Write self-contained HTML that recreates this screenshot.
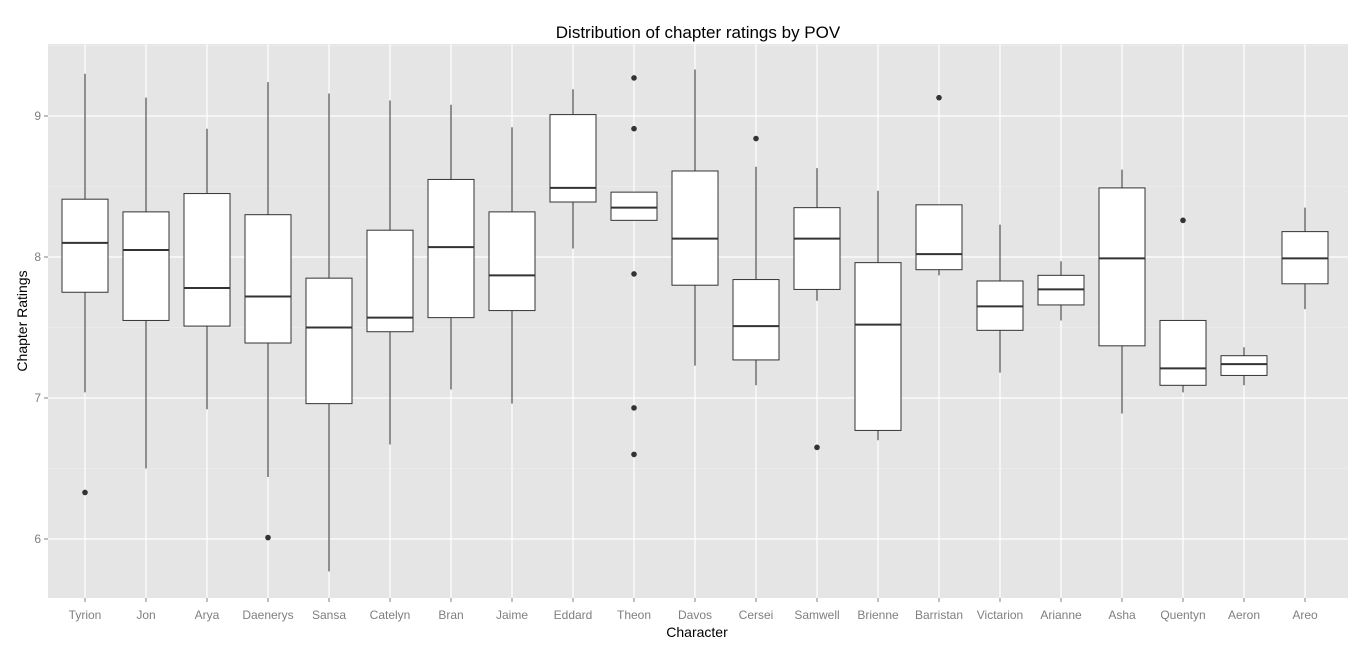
<!DOCTYPE html>
<html><head><meta charset="utf-8"><style>
body{margin:0;background:#fff;font-family:"Liberation Sans",sans-serif;}
</style></head><body>
<svg id="chart" width="1361" height="650" xmlns="http://www.w3.org/2000/svg"></svg>
<script>
const categories=["Tyrion","Jon","Arya","Daenerys","Sansa","Catelyn","Bran","Jaime","Eddard","Theon","Davos","Cersei","Samwell","Brienne","Barristan","Victarion","Arianne","Asha","Quentyn","Aeron","Areo"];
const whiskerLow=[7.04,6.50,6.92,6.44,5.77,6.67,7.06,6.96,8.06,8.26,7.23,7.09,7.69,6.70,7.87,7.18,7.55,6.89,7.04,7.09,7.63];
const q1=[7.75,7.55,7.51,7.39,6.96,7.47,7.57,7.62,8.39,8.26,7.80,7.27,7.77,6.77,7.91,7.48,7.66,7.37,7.09,7.16,7.81];
const medians=[8.10,8.05,7.78,7.72,7.50,7.57,8.07,7.87,8.49,8.35,8.13,7.51,8.13,7.52,8.02,7.65,7.77,7.99,7.21,7.24,7.99];
const q3=[8.41,8.32,8.45,8.30,7.85,8.19,8.55,8.32,9.01,8.46,8.61,7.84,8.35,7.96,8.37,7.83,7.87,8.49,7.55,7.30,8.18];
const whiskerHigh=[9.30,9.13,8.91,9.24,9.16,9.11,9.08,8.92,9.19,8.46,9.33,8.64,8.63,8.47,8.37,8.23,7.97,8.62,7.55,7.36,8.35];
const outliers=[[6.33],[],[],[6.01],[],[],[],[],[],[9.27,8.91,7.88,6.93,6.60],[],[8.84],[6.65],[],[9.13],[],[],[],[8.26],[],[]];
const yTicks=[6,7,8,9];

const NS="http://www.w3.org/2000/svg";
const svg=document.getElementById("chart");
const L=48,R=1348,T=44,B=598;
const yS=v=>257-(v-8)*141;
const xS=i=>85+i*61;
function el(tag,attrs,parent){const e=document.createElementNS(NS,tag);for(const k in attrs)e.setAttribute(k,attrs[k]);(parent||svg).appendChild(e);return e;}
const bg=el("rect",{x:L,y:T,width:R-L,height:B-T,fill:"#e5e5e5"});


const grid=el("g",{});


for(let v=5.5;v<=9.6;v+=0.5){const y=yS(v);if(y<T||y>B)continue;el("line",{x1:L,x2:R,y1:y,y2:y,stroke:(v%1===0)?"#fff":"#f2f2f2","stroke-width":(v%1===0)?1.2:0.6},grid);}
categories.forEach((c,i)=>{el("line",{x1:xS(i),x2:xS(i),y1:T,y2:B,stroke:"#fff","stroke-width":1.2},grid);});
const yax=el("g",{font_size:12});


yTicks.forEach(v=>{const y=yS(v);el("line",{x1:L-4,x2:L,y1:y,y2:y,stroke:"#7f7f7f"},yax);const t=el("text",{x:L-7,y:y+4,"text-anchor":"end","font-size":12,fill:"#7f7f7f"},yax);t.textContent=v;});
const xax=el("g",{});


categories.forEach((c,i)=>{el("line",{x1:xS(i),x2:xS(i),y1:B,y2:B+4,stroke:"#7f7f7f"},xax);const t=el("text",{x:xS(i),y:619,"text-anchor":"middle","font-size":12,fill:"#7f7f7f"},xax);t.textContent=c;});
const hw=23;
categories.forEach((c,i)=>{
  const g=el("g",{});
  
  
  const x=xS(i);
  el("line",{x1:x,x2:x,y1:yS(whiskerHigh[i]),y2:yS(q3[i]),stroke:"#333","stroke-width":1},g);
  el("line",{x1:x,x2:x,y1:yS(q1[i]),y2:yS(whiskerLow[i]),stroke:"#333","stroke-width":1},g);
  el("rect",{x:x-hw,y:yS(q3[i]),width:2*hw,height:yS(q1[i])-yS(q3[i]),fill:"#fff",stroke:"#333","stroke-width":1},g);
  el("line",{x1:x-hw,x2:x+hw,y1:yS(medians[i]),y2:yS(medians[i]),stroke:"#333","stroke-width":2},g);
  outliers[i].forEach(v=>{const p=el("circle",{cx:x,cy:yS(v),r:2.8,fill:"#333"},g);
    
    });
});
const title=el("text",{x:698,y:38,"text-anchor":"middle","font-size":17,fill:"#000"});
title.textContent="Distribution of chapter ratings by POV";


const xt=el("text",{x:697,y:637,"text-anchor":"middle","font-size":14,fill:"#000"});
xt.textContent="Character";


const yt=el("text",{x:0,y:0,"text-anchor":"middle","font-size":14,fill:"#000",transform:"translate(27,321) rotate(-90)"});
yt.textContent="Chapter Ratings";


</script>
</body></html>
